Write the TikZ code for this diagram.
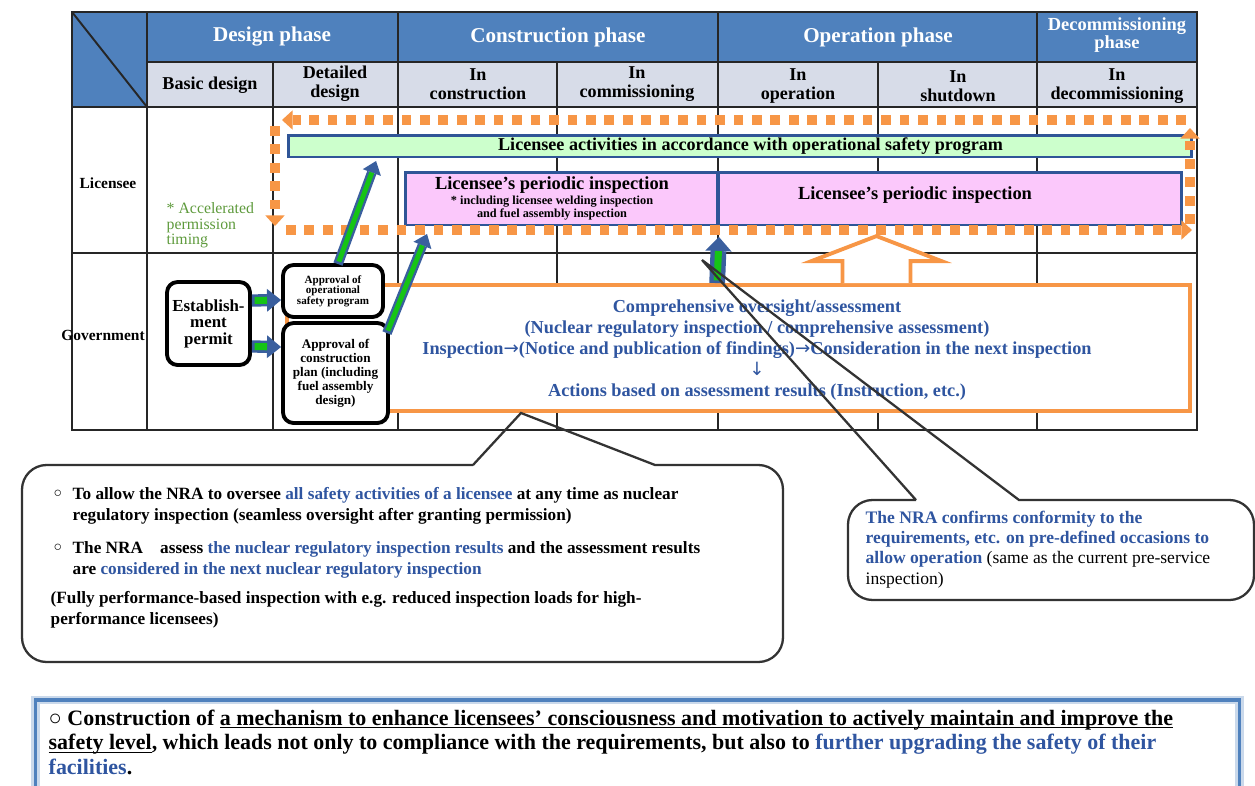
\documentclass[tikz,border=0pt]{standalone}
\usepackage{fontspec}
\setmainfont{Liberation Serif}
\newfontfamily\symfont{DejaVu Sans}
\usetikzlibrary{arrows.meta}
\usetikzlibrary{positioning}
\usetikzlibrary{calc}
\definecolor{hdblue}{HTML}{4F81BD}
\definecolor{subgray}{HTML}{D7DCE8}
\definecolor{boxblue}{HTML}{2F5597}
\definecolor{txtblue}{HTML}{2F55A0}
\definecolor{loopor}{HTML}{F79646}
\definecolor{actgreen}{HTML}{CCFFCC}
\definecolor{insppink}{HTML}{FBC8FB}
\definecolor{arrgreen}{HTML}{16C416}
\definecolor{arrblue}{HTML}{3A5F9E}
\definecolor{notegreen}{HTML}{5E9A3C}

\begin{document}
\begin{tikzpicture}[thick,>=Stealth,x=0.02cm,y=-0.02cm,
    gridline/.style={line width=1.1pt,black!85},
    hdr/.style={text=white,font=\fontsize{12}{13}\selectfont\bfseries},
    sub/.style={align=center,font=\fontsize{10.3}{11}\selectfont\bfseries},
    rowlbl/.style={font=\fontsize{8.8}{10}\selectfont\bfseries},
    inspbox/.style={draw=boxblue,line width=1.7pt,inner sep=0pt,outer sep=0pt},
    govbox/.style={draw=black,fill=white,line width=2.2pt,rounded corners=6pt,align=center,inner sep=0pt},
    fatarrow/.style={draw=arrblue,line width=5.5pt,-{Triangle[length=7pt,width=11pt,line width=0pt]},
      postaction={draw=arrgreen,line width=2.8pt,-,shorten >=7pt,shorten <=1.5pt}},
    fatside/.style={draw=arrblue,line width=7pt,-{Triangle[length=8pt,width=13pt,line width=0pt]},
      postaction={draw=arrgreen,line width=4pt,-,shorten >=8pt,shorten <=1.5pt}},
    fatup/.style={draw=arrblue,line width=9pt,-{Triangle[length=8pt,width=15pt,line width=0pt]},
      postaction={draw=arrgreen,line width=4pt,-,shorten >=8pt,shorten <=1.5pt}},
    dotloop/.style={draw=loopor,line width=5.5pt,dash pattern=on 5.5pt off 5pt,-{Triangle[length=6pt,width=11pt,line width=0pt]}},
    callout/.style={draw=black!80,line width=1.3pt},
    bodytext/.style={align=left,anchor=north west,inner sep=0pt,font=\fontsize{9.8}{11.7}\selectfont\bfseries}]
    \useasboundingbox (0,0) rectangle (1255,785);

    \fill[hdblue] (72,12) rectangle (1197,62);
    \fill[hdblue] (72,62) rectangle (147,107);
    \fill[subgray] (147,62) rectangle (1197,107);
    \draw[gridline] (72,12) rectangle (1197,430);
    \draw[gridline] (147,62) -- (1197,62);
    \foreach \y in {107,253} \draw[gridline] (72,\y) -- (1197,\y);
    \foreach \x in {147,398,718,1037} \draw[gridline] (\x,12) -- (\x,430);
    \foreach \x in {273,557,878} \draw[gridline] (\x,62) -- (\x,430);
    \draw[gridline] (72,12) -- (147,107);

    \node[hdr] (design) at (272,37) {Design phase};
    \node[hdr] (construction) at (558,37) {Construction phase};
    \node[hdr] (operation) at (878,37) {Operation phase};
    \node[hdr,align=center,font=\fontsize{10.5}{10.5}\selectfont\bfseries] (decommissioning) at (1117,35) {Decommissioning\\phase};
    \node[sub] (basic) at (210,85) {Basic design};
    \node[sub] (detailed) at (335,84) {Detailed\\design};
    \node[sub] (in-construction) at (478,84) {In\\construction};
    \node[sub] (in-commissioning) at (637,84) {In\\commissioning};
    \node[sub] (in-operation) at (798,86) {In\\operation};
    \node[sub] (in-shutdown) at (958,86) {In\\shutdown};
    \node[sub] (in-decommissioning) at (1117,86) {In\\decommissioning};
    \node[rowlbl] (licensee) at (108,183) {Licensee};
    \node[rowlbl] (government) at (103,335) {Government};
    \node[align=left,anchor=north west,inner sep=0pt,text=notegreen,font=\fontsize{9}{8.9}\selectfont] (accel) at (166,202) {* Accelerated\\permission\\timing};

    \node[inspbox,fill=actgreen,minimum width=18.08cm,minimum height=0.44cm,font=\fontsize{10.3}{11}\selectfont\bfseries] (act-bar) at (740,146) {\hspace*{12pt}Licensee activities in accordance with operational safety program};
    \node[inspbox,fill=insppink,minimum width=6.26cm,minimum height=1.06cm] (periodic-a) at (561.5,198.5) {};
    \node[inspbox,fill=insppink,minimum width=9.28cm,minimum height=1.06cm] (periodic-b) at (950,198.5) {};
    \node[font=\fontsize{10.5}{12}\selectfont\bfseries] (periodic-a-title) at (552,185) {Licensee’s periodic inspection};
    \node[align=center,font=\fontsize{7}{7.6}\selectfont\bfseries] (periodic-a-note) at (552,208) {* including licensee welding inspection\\and fuel assembly inspection};
    \node[font=\fontsize{10.5}{12}\selectfont\bfseries] (periodic-b-title) at (915,195) {Licensee’s periodic inspection};

    \draw[dotloop] (1186,120) -- (282,120);
    \draw[dotloop] (275,126) -- (275,226);
    \draw[dotloop] (286,230) -- (1192,230);
    \draw[dotloop] (1190,224) -- (1190,128);

    \node[draw=loopor,fill=white,line width=2.2pt,minimum width=18.06cm,minimum height=2.52cm,inner sep=0pt] (oversight) at (738.5,348) {};
    \node[align=center,text=txtblue,font=\fontsize{10.4}{11.9}\selectfont\bfseries] (oversight-text) at (757,350) {Comprehensive oversight/assessment\\(Nuclear regulatory inspection / comprehensive assessment)\\Inspection{\symfont\mdseries→}(Notice and publication of findings){\symfont\mdseries→}Consideration in the next inspection\\{\symfont\mdseries↓}\\Actions based on assessment results (Instruction, etc.)};
    \coordinate (hollow-base) at ($(oversight.north)+(138,0)$);
    \draw[loopor,line width=2.2pt,fill=white] ($(hollow-base)+(-34,0)$) -- ++(0,-22) -- ++(-31,0) -- ++(65,-25) -- ++(65,25) -- ++(-31,0) -- ++(0,22);

    \node[govbox,minimum width=1.66cm,minimum height=1.66cm,font=\fontsize{9.6}{9.4}\selectfont\bfseries] (permit) at (208.5,323.5) {Establish-\\ment\\permit};
    \node[govbox,minimum width=2.0cm,minimum height=1.04cm,font=\fontsize{6.3}{5.9}\selectfont\bfseries] (approval-ops) at (333,291) {Approval of\\operational\\safety program};
    \node[govbox,minimum width=2.1cm,minimum height=2.0cm,font=\fontsize{7.5}{8}\selectfont\bfseries] (approval-cp) at (335.5,373) {Approval of\\construction\\plan (including\\fuel assembly\\design)};

    \draw[fatarrow] ($(approval-ops.north)+(5,1)$) -- ($(act-bar.south west)+(88,4)$);
    \draw[fatarrow] ($(approval-cp.north east)+(-3,12)$) -- ($(periodic-a.south west)+(22,9)$);
    \draw[fatside] ($(permit.east)+(0,-23)$) -- ($(approval-ops.west)+(0,9)$);
    \draw[fatside] ($(permit.east)+(0,23)$) -- ($(approval-cp.west)+(0,-26)$);
    \draw[fatup] ($(oversight.north west)+(432,0)$) -- ($(periodic-a.south east)+(1,12)$);

    \draw[callout] (473,465) -- (521,413) -- (655,465) [rounded corners=14pt] -- (783,465) -- (783,662) -- (22,662) -- (22,465) -- (473,465);
    \draw[callout] (916,500) -- (702,260) -- (1019,500) [rounded corners=14pt] -- (1254,500) -- (1254,600) -- (848,600) -- (848,500) -- (916,500);

    \node[bodytext,font=\fontsize{8}{9}\selectfont] (bullet-a) at (53,489) {○};
    \node[bodytext] (oversee-text) at (72,487) {To allow the NRA to oversee {\color{txtblue}all safety activities of a licensee} at any time as nuclear\\regulatory inspection (seamless oversight after granting permission)};
    \node[bodytext,font=\fontsize{8}{9}\selectfont] (bullet-b) at (53,543) {○};
    \node[bodytext] (assess-text) at (72,541) {The NRA\quad assess {\color{txtblue}the nuclear regulatory inspection results} and the assessment results\\are {\color{txtblue}considered in the next nuclear regulatory inspection}};
    \node[bodytext] (performance-text) at (50,591) {(Fully performance-based inspection with e.g. reduced inspection loads for high-\\performance licensees)};
    \node[bodytext,font=\fontsize{10}{11.6}\selectfont] (confirm-text) at (865,510) {{\bfseries\color{txtblue}The NRA confirms conformity to the}\\{\bfseries\color{txtblue}requirements, etc. on pre-defined occasions to}\\{\bfseries\color{txtblue}allow operation} (same as the current pre-service\\inspection)};

    \node[draw=hdblue,line width=1.8pt,preaction={draw=hdblue!30,line width=5pt},minimum width=24.1cm,minimum height=2cm,inner sep=0pt] (summary-box) at (637.5,750) {};
    \node[bodytext,font=\fontsize{12.5}{14}\selectfont\bfseries] (summary-text) at (48,709) {○ Construction of \underline{\smash{a mechanism to enhance licensees’ consciousness and motivation to actively maintain and improve the}}\\\underline{\smash{safety level}}, which leads not only to compliance with the requirements, but also to {\color{txtblue}further upgrading the safety of their}\\{\color{txtblue}facilities}.};
\end{tikzpicture}
\end{document}
